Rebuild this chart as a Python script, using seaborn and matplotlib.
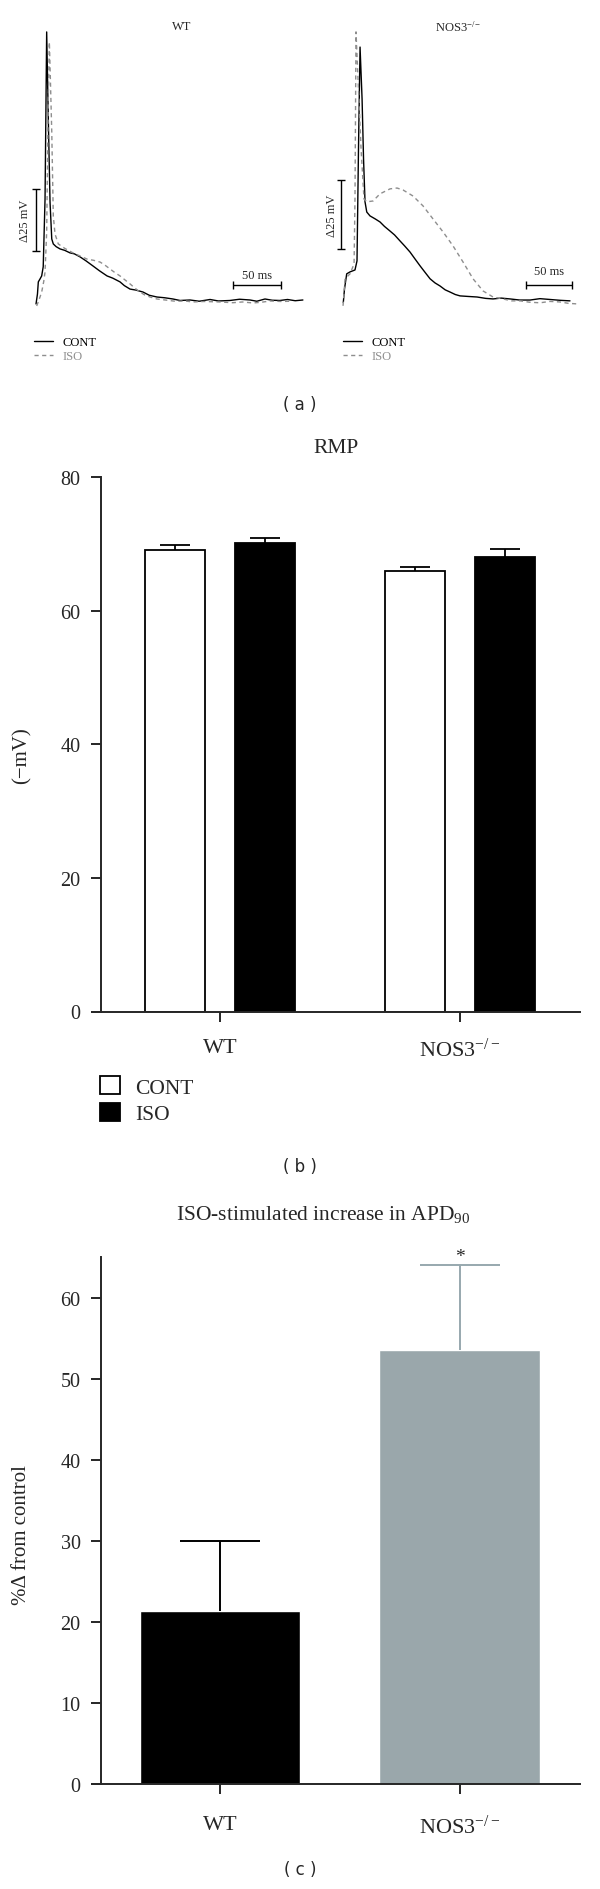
import matplotlib
matplotlib.use('Agg')
import matplotlib.pyplot as plt
import numpy as np
import pandas as pd
import seaborn as sns
from matplotlib.lines import Line2D
from matplotlib.patches import Patch

# ---- panel (a): action potential traces (time in ms, potential in mV) ----
wt_cont_t = [0.0, 1.5, 2.4, 4.2, 5.9, 7.5, 9.4, 11.1, 12.8, 14.6, 16.4, 18.0, 21.0, 25.0, 30.0, 35.4, 40.0,
             45.8, 52.0, 59.4, 66.0, 74.0, 80.0, 87.5, 92.0, 97.9, 104.0, 111.5, 118.0, 126.0, 134.0, 142.7,
             150.0, 160.4, 170.0, 181.3, 190.0, 202.0, 212.0, 222.9, 230.0, 238.5, 246.0, 254.0, 262.0, 270.0, 278.0]
wt_cont_v = [-70.0, -66.0, -61.1, -59.9, -58.7, -55.0, -27.7, 39.7, 4.6, -28.9, -43.8, -45.8, -46.9, -47.8,
             -48.4, -49.4, -49.8, -51.0, -52.6, -54.7, -56.6, -58.7, -59.6, -61.1, -62.6, -64.0, -64.4, -65.2,
             -66.5, -67.2, -67.5, -68.0, -68.6, -68.4, -68.9, -68.2, -68.8, -68.6, -68.1, -68.4, -68.9, -68.0,
             -68.5, -68.6, -68.2, -68.7, -68.4]
wt_iso_t = [0.7, 3.0, 5.9, 8.0, 9.4, 11.1, 12.8, 13.9, 15.0, 16.4, 18.0, 19.8, 23.2, 30.0, 38.5, 45.0, 53.1,
            60.0, 66.7, 72.0, 77.1, 82.0, 87.5, 92.0, 97.9, 103.0, 108.3, 113.0, 118.8, 126.0, 134.4, 145.0,
            155.0, 163.5, 175.0, 191.7, 205.0, 215.0, 226.0, 235.0, 243.8, 255.0, 266.0]
wt_iso_v = [-70.8, -68.5, -65.2, -61.0, -57.1, -41.0, 12.7, 35.6, 20.0, -0.6, -34.5, -41.8, -45.8, -47.6,
            -49.4, -50.5, -51.9, -52.4, -53.1, -54.4, -55.9, -57.3, -58.7, -60.1, -61.9, -63.6, -65.2, -66.3,
            -67.2, -68.0, -68.4, -68.9, -68.8, -69.2, -69.0, -69.2, -69.5, -69.2, -69.6, -69.3, -68.8, -69.0, -68.9]

ko_cont_t = [0.3, 1.6, 4.0, 7.6, 13.0, 15.2, 16.8, 18.5, 20.7, 22.3, 23.9, 25.8, 29.3, 35.0, 40.2, 45.0, 51.1,
             56.0, 62.0, 67.0, 72.8, 78.0, 83.7, 89.0, 94.6, 100.0, 105.4, 111.0, 116.3, 122.0, 127.2, 136.0,
             145.7, 155.0, 163.0, 172.0, 181.5, 192.0, 203.3, 214.0, 225.0, 236.0, 246.7]
ko_cont_v = [-69.5, -64.6, -59.1, -58.4, -57.7, -54.4, -13.8, 23.1, 4.3, -17.5, -33.0, -36.7, -38.1, -39.2,
             -40.3, -41.9, -43.6, -45.0, -47.2, -49.0, -51.2, -53.6, -56.2, -58.5, -60.9, -62.4, -63.5, -64.9,
             -65.7, -66.6, -67.1, -67.3, -67.5, -68.0, -68.2, -67.9, -68.2, -68.6, -68.6, -68.1, -68.4, -68.7, -68.9]
ko_iso_t = [0.0, 2.2, 7.6, 12.0, 13.0, 14.1, 16.3, 19.6, 22.8, 25.8, 32.6, 40.2, 51.1, 58.7, 65.2, 76.1, 87.0,
            97.8, 108.7, 119.6, 130.4, 141.3, 152.2, 163.0, 173.9, 183.0, 192.4, 203.0, 214.1, 225.0, 235.9,
            245.0, 254.3]
ko_iso_v = [-70.7, -60.9, -59.1, -55.5, -32.0, 28.6, 11.5, -13.8, -32.0, -33.0, -32.7, -30.1, -28.3, -28.0,
            -28.7, -30.9, -34.5, -39.2, -43.9, -49.0, -54.8, -60.9, -65.3, -67.5, -68.2, -68.9, -68.9, -69.4,
            -69.6, -69.1, -69.3, -69.8, -70.0]

# ---- panel (b): resting membrane potential ----
genotypes = ['WT', 'NOS3$^{-/-}$']
conditions = ['CONT', 'ISO']
rmp_mean = {'CONT': [69.0, 66.0], 'ISO': [70.1, 68.1]}
rmp_sem = {'CONT': [0.75, 0.55], 'ISO': [0.8, 1.15]}

# ---- panel (c): ISO-stimulated increase in APD90 ----
apd_mean = [21.3, 53.5]
apd_sem = [8.7, 10.5]
apd_colors = ['black', '#97a8ae']

sns.set_style('ticks')
plt.rcParams['font.family'] = ['Liberation Serif', 'DejaVu Serif']
plt.rcParams['mathtext.fontset'] = 'custom'
plt.rcParams['mathtext.rm'] = 'Liberation Serif'
plt.rcParams['mathtext.it'] = 'Liberation Serif:italic'
plt.rcParams['axes.linewidth'] = 1.4

W, H = 600, 1890
fig = plt.figure(figsize=(6, 18.9), dpi=100)


def box(x0, y0, x1, y1):
    return [x0 / W, 1 - y1 / H, (x1 - x0) / W, (y1 - y0) / H]


def upper_errorbar(ax, bar, err, color, lw):
    # one-sided (upper) error bar, cap half as wide as the bar
    h = bar.get_height()
    cx = bar.get_x() + bar.get_width() / 2
    half = bar.get_width() / 4
    ax.vlines(cx, h, h + err, color=color, lw=lw, zorder=3)
    ax.hlines(h + err, cx - half, cx + half, color=color, lw=lw, zorder=3)
    return cx, h + err


# ---------------- (a) ----------------
trace_sets = [
    ('WT', wt_cont_t, wt_cont_v, wt_iso_t, wt_iso_v, box(10, 10, 310, 330), (-27.1, 285.4), (-80.1, 48.95),
     dict(vx=0.0, v0=-48.6, tx=-11.5, h0=205.2, hy=-62.3, hty=-58.3), 182, 34),
    ('NOS3$^{-/-}$', ko_cont_t, ko_cont_v, ko_iso_t, ko_iso_v, box(310, 10, 600, 330), (-35.9, 279.3),
     (-79.1, 36.9), dict(vx=-2.2, v0=-50.1, tx=-12.0, h0=198.9, hy=-63.0, hty=-58.2), 458, 343),
]
for name, ct, cv, it, iv, pos, xl, yl, sb, title_x, leg_x in trace_sets:
    ax = fig.add_axes(pos)
    trace = pd.concat([pd.DataFrame({'t': ct, 'v': cv, 'cond': 'CONT'}),
                       pd.DataFrame({'t': it, 'v': iv, 'cond': 'ISO'})])
    sns.lineplot(data=trace, x='t', y='v', hue='cond', style='cond', sort=False, estimator=None,
                 palette={'CONT': 'black', 'ISO': '#8e8e8e'}, dashes={'CONT': '', 'ISO': (3, 2.5)},
                 linewidth=1.0, legend=False, ax=ax)
    ax.set_xlim(*xl)
    ax.set_ylim(*yl)
    ax.axis('off')
    # 25 mV and 50 ms scale bars
    ax.errorbar([sb['vx']], [sb['v0'] + 12.5], yerr=12.5, fmt='none', ecolor='black', elinewidth=1.0,
                capsize=3, capthick=1.0)
    ax.text(sb['tx'], sb['v0'] + 12.5, '\u039425 mV', rotation=90, ha='center', va='center', fontsize=9)
    ax.errorbar([sb['h0'] + 25], [sb['hy']], xerr=25, fmt='none', ecolor='black', elinewidth=1.0,
                capsize=3, capthick=1.0)
    ax.text(sb['h0'] + 25, sb['hty'], '50 ms', ha='center', va='center', fontsize=9)
    fig.text(title_x / W, 1 - 27 / H, name, ha='center', va='center', fontsize=9)
    handles = [Line2D([], [], color='black', lw=1.0),
               Line2D([], [], color='#8e8e8e', lw=1.0, dashes=(3, 2.5))]
    fig.legend(handles, conditions, loc='upper left', bbox_to_anchor=(leg_x / W, 1 - 337 / H), frameon=False,
               fontsize=9, handlelength=1.5, handletextpad=0.8, labelspacing=0.2, borderpad=0,
               borderaxespad=0, labelcolor=['black', '#8e8e8e'])

fig.text(300 / W, 1 - 405 / H, '( a )', family='DejaVu Sans', ha='center', va='center', fontsize=12)

# ---------------- (b) ----------------
rows = []
for c in conditions:
    for g, m in zip(genotypes, rmp_mean[c]):
        rows.append([g, c, m])
rmp_df = pd.DataFrame(rows, columns=['genotype', 'condition', 'rmp'])
sem_lookup = {(round(m, 3)): s for c in conditions for m, s in zip(rmp_mean[c], rmp_sem[c])}

axb = fig.add_axes(box(91.8, 478, 579.8, 1012.5))
sns.barplot(data=rmp_df, x='genotype', y='rmp', hue='condition', order=genotypes, hue_order=conditions,
            palette={'CONT': 'white', 'ISO': 'black'}, edgecolor='black', linewidth=1.3, width=0.75, gap=0.34,
            errorbar=None, legend=False, ax=axb)
for bar in list(axb.patches):
    upper_errorbar(axb, bar, sem_lookup[round(bar.get_height(), 3)], 'black', 1.3)
axb.set_xlim(-0.534, 1.5)
axb.set_ylim(0, 80)
axb.set_yticks([0, 20, 40, 60, 80])
axb.set_title('RMP', fontsize=15.5, pad=18)
axb.set_xlabel('')
axb.set_ylabel('(\u2212mV)', fontsize=15)
axb.yaxis.set_label_coords(-0.1225, 0.481)
axb.spines['top'].set_visible(False)
axb.spines['right'].set_visible(False)
axb.spines['left'].set_position(('axes', 9.6 / 488))
axb.tick_params(axis='y', length=7, width=1.4, pad=8, labelsize=14.5)
axb.tick_params(axis='x', length=7, width=1.4, pad=12, labelsize=16)

leg_handles = [Patch(facecolor='white', edgecolor='black', linewidth=1.3),
               Patch(facecolor='black', edgecolor='black', linewidth=1.3)]
fig.legend(leg_handles, conditions, loc='upper left', bbox_to_anchor=(100 / W, 1 - 1077 / H), frameon=False,
           fontsize=15.5, handlelength=0.93, handleheight=0.93, handletextpad=0.7, labelspacing=0.25,
           borderpad=0, borderaxespad=0)

fig.text(300 / W, 1 - 1167 / H, '( b )', family='DejaVu Sans', ha='center', va='center', fontsize=12)

# ---------------- (c) ----------------
apd_df = pd.DataFrame({'genotype': genotypes, 'apd': apd_mean})
axc = fig.add_axes(box(91.8, 1258, 579.8, 1785))
sns.barplot(data=apd_df, x='genotype', y='apd', hue='genotype', order=genotypes, palette=apd_colors,
            width=0.67, errorbar=None, legend=False, ax=axc)
for bar, err, col in zip(list(axc.patches), apd_sem, apd_colors):
    top = upper_errorbar(axc, bar, err, col, 1.4)
    if col != 'black':
        axc.annotate('*', top, xytext=(0, 0), textcoords='offset points', ha='center',
                     va='bottom', fontsize=14)
axc.set_xlim(-0.534, 1.5)
axc.set_ylim(0, 65)
axc.set_yticks([0, 10, 20, 30, 40, 50, 60])
axc.set_title('ISO-stimulated increase in APD$_{90}$', fontsize=15.5, pad=27, x=0.475)
axc.set_xlabel('')
axc.set_ylabel('%\u0394 from control', fontsize=15)
axc.yaxis.set_label_coords(-0.125, 0.474)
axc.spines['top'].set_visible(False)
axc.spines['right'].set_visible(False)
axc.spines['left'].set_position(('axes', 9.6 / 488))
axc.tick_params(axis='y', length=7, width=1.4, pad=8, labelsize=14.5)
axc.tick_params(axis='x', length=7, width=1.4, pad=15, labelsize=16)

fig.text(300 / W, 1 - 1870 / H, '( c )', family='DejaVu Sans', ha='center', va='center', fontsize=12)

fig.savefig('out.png', dpi=100)
